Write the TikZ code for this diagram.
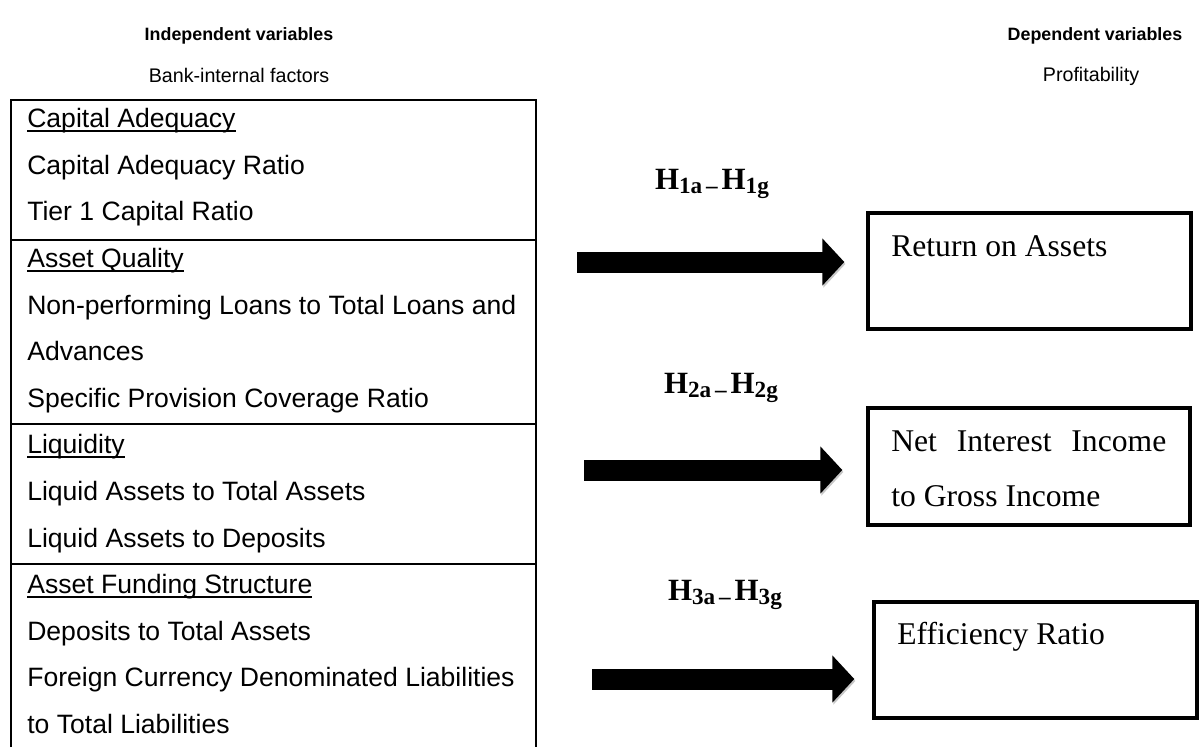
\documentclass[tikz,border=0pt]{standalone}
\usepackage{fontspec}
\setmainfont{Liberation Serif}
\setsansfont{Liberation Sans}
\usetikzlibrary{arrows.meta, positioning}

% underline that sits close to the baseline
\newcommand{\uline}[1]{\setbox0\hbox{#1}\rlap{\rule[-0.17em]{\wd0}{0.07em}}\box0}
% small lowered part of the hypothesis labels
\newcommand{\hsub}[1]{\raisebox{-0.12em}{\fontsize{16.5}{16.5}\selectfont #1}}

\tikzset{
  head/.style={font=\sffamily\bfseries\fontsize{12.7}{15}\selectfont},
  subhead/.style={font=\sffamily\fontsize{14}{17}\selectfont},
  factor/.style={anchor=base west, inner sep=0pt, font=\sffamily\fontsize{18.9}{22}\selectfont},
  outbox/.style={draw, line width=2.4pt, rectangle, minimum width=8.075cm, minimum height=2.9cm},
  outtext/.style={anchor=base west, inner sep=0pt, font=\fontsize{22.5}{26}\selectfont},
  hyp/.style={font=\bfseries\fontsize{22}{26}\selectfont},
  hyparrow/.style={line width=0.525cm, -{Triangle[length=0.55cm, width=1.15cm]},
    preaction={draw, black!22, transform canvas={xshift=0.8pt, yshift=-1.4pt}}}
}

\begin{document}
\begin{tikzpicture}
  \useasboundingbox (0,0) rectangle (30,-18.675);

  % column titles
  \node[head] (indep) at (5.975,-0.9) {Independent variables};
  \node[subhead] (bank) at (5.975,-1.875) {Bank-internal factors};
  \node[head] (dep) at (27.375,-0.9) {Dependent variables};
  \node[subhead] (prof) at (27.275,-1.9) {Profitability};

  % table of bank-internal factors (open at the bottom)
  \draw[line width=1.5pt] (0.275,-18.675) -- (0.275,-2.5) -- (13.4,-2.5) -- (13.4,-18.675);
  \draw[line width=1.5pt] (0.275,-6.0) -- (13.4,-6.0);
  \draw[line width=1.5pt] (0.275,-10.6) -- (13.4,-10.6);
  \draw[line width=1.5pt] (0.275,-14.1) -- (13.4,-14.1);

  % Capital Adequacy
  \node[factor] (ca) at (0.675,-3.19) {\uline{Capital Adequacy}};
  \node[factor] (car) at (0.675,-4.355) {Capital Adequacy Ratio};
  \node[factor] (tcr) at (0.675,-5.52) {Tier 1 Capital Ratio};
  % Asset Quality
  \node[factor] (aq) at (0.675,-6.685) {\uline{Asset Quality}};
  \node[factor] (npl) at (0.675,-7.85) {Non-performing Loans to Total Loans and};
  \node[factor] (adv) at (0.675,-9.015) {Advances};
  \node[factor] (spc) at (0.675,-10.18) {Specific Provision Coverage Ratio};
  % Liquidity
  \node[factor] (liq) at (0.675,-11.345) {\uline{Liquidity}};
  \node[factor] (lta) at (0.675,-12.51) {Liquid Assets to Total Assets};
  \node[factor] (lad) at (0.675,-13.675) {Liquid Assets to Deposits};
  % Asset Funding Structure
  \node[factor] (afs) at (0.675,-14.84) {\uline{Asset Funding Structure}};
  \node[factor] (dta) at (0.675,-16.005) {Deposits to Total Assets};
  \node[factor] (fcl) at (0.675,-17.17) {Foreign Currency Denominated Liabilities};
  \node[factor] (ttl) at (0.675,-18.335) {to Total Liabilities};

  % profitability measures
  \node[outbox] (roa) at (25.7375,-6.775) {};
  \node[outtext] (roatxt) at (22.275,-6.4125) {Return on Assets};

  \node[outbox, minimum width=8.05cm, minimum height=2.925cm] (nii) at (25.725,-11.6625) {};
  \node[outtext] (niitxt) at (22.275,-11.285) {\makebox[6.875cm][s]{Net Interest Income}};
  \node[outtext] (niitxtb) at (22.275,-12.66) {to Gross Income};

  \node[outbox] (eff) at (25.8875,-16.5) {};
  \node[outtext] (efftxt) at (22.425,-16.11) {Efficiency Ratio};

  % hypotheses
  \node[hyp] (h1) at (17.8,-4.6) {H\hsub{1a\,–\,}H\hsub{1g}};
  \node[hyp] (h2) at (18.025,-9.7) {H\hsub{2a\,–\,}H\hsub{2g}};
  \node[hyp] (h3) at (18.125,-14.875) {H\hsub{3a\,–\,}H\hsub{3g}};

  % block arrows towards the boxes
  \coordinate (t1) at (14.425,-6.55);
  \coordinate (t2) at (14.6,-11.75);
  \coordinate (t3) at (14.8,-16.975);
  \draw[hyparrow, shorten >=0.55cm] (t1) -- (t1 -| roa.west);
  \draw[hyparrow, shorten >=0.6cm] (t2) -- (t2 -| nii.west);
  \draw[hyparrow, shorten >=0.45cm] (t3) -- (t3 -| eff.west);
\end{tikzpicture}
\end{document}
